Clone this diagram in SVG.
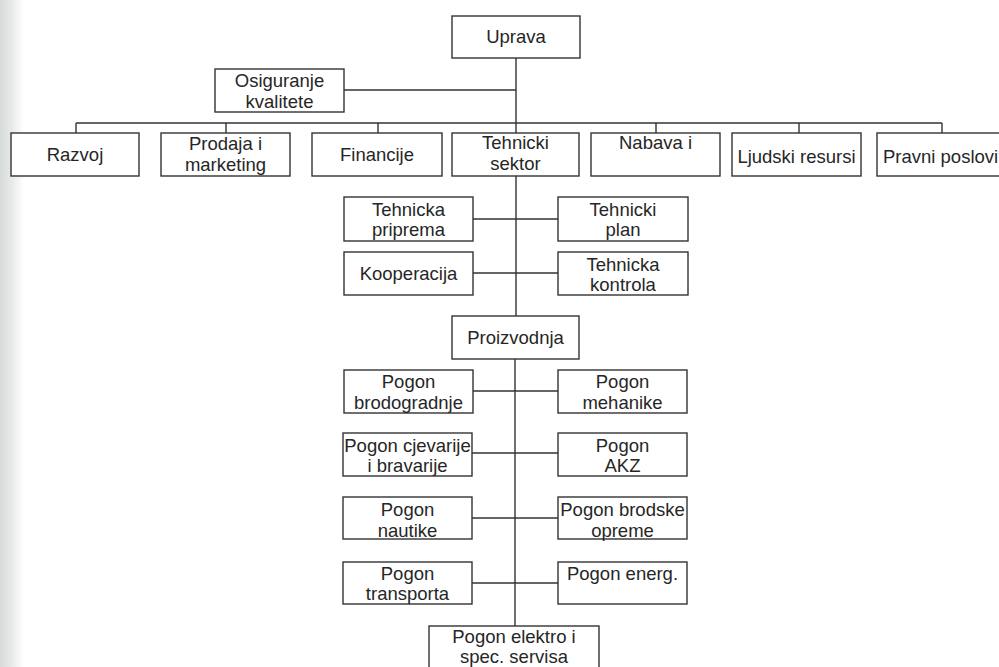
<svg xmlns="http://www.w3.org/2000/svg" width="999" height="667" viewBox="0 0 999 667">
<defs>
<linearGradient id="edge" x1="0" y1="0" x2="1" y2="0">
<stop offset="0" stop-color="#d8dbdb"/>
<stop offset="0.5" stop-color="#e8eaea"/>
<stop offset="1" stop-color="#ffffff"/>
</linearGradient>
</defs>
<style>
.box{fill:#ffffff;stroke:#333333;stroke-width:1.4}
.t{font-family:"Liberation Sans",Arial,sans-serif;font-size:18.5px;fill:#262626;text-anchor:middle}
.c{fill:none;stroke:#333333;stroke-width:1.4}
</style>
<rect x="0" y="0" width="999" height="667" fill="#ffffff"/>
<rect x="0" y="0" width="24" height="667" fill="url(#edge)"/>
<g id="connectors" class="c">
<path d="M516 58V133"/>
<path d="M344 90H516"/>
<path d="M76 123H942"/>
<path d="M76 123V133M226 123V133M378 123V133M656 123V133M799 123V133M942 123V133"/>
<path d="M516 176V316"/>
<path d="M473 219H558M473 273H558"/>
<path d="M515 359V626"/>
<path d="M472 391H558M472 453H558M472 518H558M472 583H558"/>
</g>
<g id="uprava"><rect class="box" x="452" y="16" width="128" height="42"/><text class="t" x="516" y="43">Uprava</text></g>
<g id="osiguranje"><rect class="box" x="215" y="69" width="129" height="43"/><text class="t" x="279.5" y="87">Osiguranje</text><text class="t" x="279.5" y="108">kvalitete</text></g>
<g id="razvoj"><rect class="box" x="11" y="133" width="128" height="43"/><text class="t" x="75" y="161">Razvoj</text></g>
<g id="prodaja"><rect class="box" x="161" y="133" width="129" height="43"/><text class="t" x="225.5" y="150">Prodaja i</text><text class="t" x="225.5" y="171">marketing</text></g>
<g id="financije"><rect class="box" x="312" y="133" width="130" height="43"/><text class="t" x="377" y="161">Financije</text></g>
<g id="tehnicki-sektor"><rect class="box" x="452" y="133" width="127" height="43"/><text class="t" x="515.5" y="149">Tehnicki</text><text class="t" x="515.5" y="170">sektor</text></g>
<g id="nabava"><rect class="box" x="591" y="133" width="129" height="43"/><text class="t" x="655.5" y="149">Nabava i</text></g>
<g id="ljudski"><rect class="box" x="732" y="133" width="129" height="43"/><text class="t" x="796.5" y="163">Ljudski resursi</text></g>
<g id="pravni"><rect class="box" x="877" y="133" width="130" height="43"/><text class="t" x="883" y="163" style="text-anchor:start">Pravni poslovi</text></g>
<g id="tehnicka-priprema"><rect class="box" x="344" y="197" width="129" height="44"/><text class="t" x="408.5" y="216">Tehnicka</text><text class="t" x="408.5" y="236">priprema</text></g>
<g id="tehnicki-plan"><rect class="box" x="558" y="197" width="130" height="44"/><text class="t" x="623" y="216">Tehnicki</text><text class="t" x="623" y="236">plan</text></g>
<g id="kooperacija"><rect class="box" x="344" y="252" width="129" height="43"/><text class="t" x="408.5" y="280">Kooperacija</text></g>
<g id="tehnicka-kontrola"><rect class="box" x="558" y="252" width="130" height="43"/><text class="t" x="623" y="271">Tehnicka</text><text class="t" x="623" y="291">kontrola</text></g>
<g id="proizvodnja"><rect class="box" x="452" y="316" width="127" height="43"/><text class="t" x="515.5" y="344">Proizvodnja</text></g>
<g id="pogon-brodogradnje"><rect class="box" x="344" y="370" width="129" height="43"/><text class="t" x="408.5" y="388">Pogon</text><text class="t" x="408.5" y="409">brodogradnje</text></g>
<g id="pogon-mehanike"><rect class="box" x="558" y="370" width="129" height="43"/><text class="t" x="622.5" y="388">Pogon</text><text class="t" x="622.5" y="409">mehanike</text></g>
<g id="pogon-cjevarije"><rect class="box" x="343" y="433" width="129" height="43"/><text class="t" x="407.5" y="452">Pogon cjevarije</text><text class="t" x="407.5" y="472">i bravarije</text></g>
<g id="pogon-akz"><rect class="box" x="558" y="433" width="129" height="43"/><text class="t" x="622.5" y="452">Pogon</text><text class="t" x="622.5" y="472">AKZ</text></g>
<g id="pogon-nautike"><rect class="box" x="343" y="497" width="129" height="42"/><text class="t" x="407.5" y="516">Pogon</text><text class="t" x="407.5" y="537">nautike</text></g>
<g id="pogon-brodske-opreme"><rect class="box" x="558" y="497" width="129" height="42"/><text class="t" x="622.5" y="516">Pogon brodske</text><text class="t" x="622.5" y="537">opreme</text></g>
<g id="pogon-transporta"><rect class="box" x="343" y="562" width="129" height="42"/><text class="t" x="407.5" y="580">Pogon</text><text class="t" x="407.5" y="600">transporta</text></g>
<g id="pogon-energ"><rect class="box" x="558" y="562" width="129" height="42"/><text class="t" x="622.5" y="580">Pogon energ.</text></g>
<g id="pogon-elektro"><rect class="box" x="429" y="626" width="170" height="50"/><text class="t" x="514" y="643">Pogon elektro i</text><text class="t" x="514" y="663">spec. servisa</text></g>
</svg>
